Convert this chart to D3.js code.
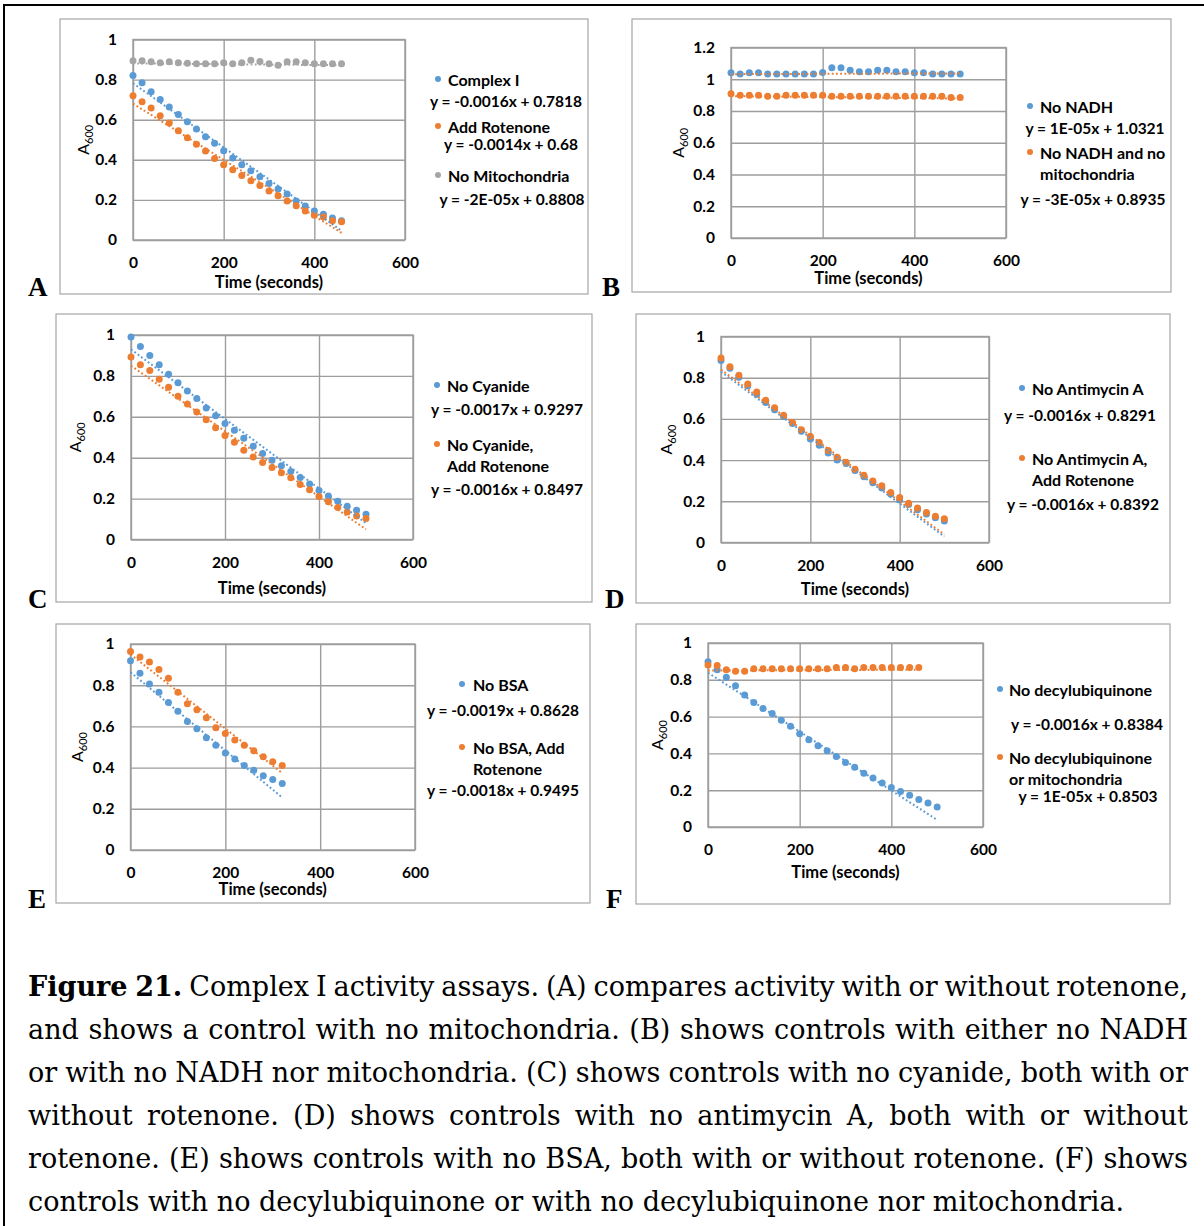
<!DOCTYPE html>
<html>
<head>
<meta charset="utf-8">
<script src="https://cdn.jsdelivr.net/npm/d3@7"></script>
<style>
  body { margin: 0; background: #fff; }
  svg text { font-family: Lato, "Open Sans", sans-serif; }
</style>
</head>
<body>
<svg id="fig" width="1204" height="1226"></svg>
<script>
// ---- values (A600 vs time, one reading every 20 s) ----
var time460 = [0,20,40,60,80,100,120,140,160,180,200,220,240,260,280,300,320,340,360,380,400,420,440,460];
var time500 = [0,20,40,60,80,100,120,140,160,180,200,220,240,260,280,300,320,340,360,380,400,420,440,460,480,500];
var time320 = [0,20,40,60,80,100,120,140,160,180,200,220,240,260,280,300,320];

// A
var complexI = [0.820,0.784,0.739,0.701,0.663,0.626,0.590,0.553,0.515,0.482,0.445,0.409,0.375,0.346,0.316,0.282,0.254,0.229,0.194,0.169,0.145,0.128,0.110,0.096];
var addRotenone = [0.719,0.689,0.658,0.620,0.583,0.545,0.510,0.477,0.444,0.407,0.375,0.350,0.322,0.296,0.272,0.244,0.221,0.194,0.171,0.145,0.123,0.115,0.096,0.091];
var noMitochondria = [0.894,0.894,0.889,0.884,0.889,0.884,0.882,0.879,0.879,0.879,0.884,0.879,0.884,0.897,0.890,0.879,0.872,0.889,0.889,0.884,0.879,0.879,0.879,0.879];
// B
var noNADH = [1.041,1.033,1.041,1.041,1.033,1.033,1.033,1.033,1.033,1.033,1.043,1.073,1.073,1.056,1.048,1.048,1.056,1.056,1.048,1.048,1.041,1.041,1.033,1.033,1.033,1.033];
var noNADHnoMito = [0.908,0.899,0.899,0.899,0.893,0.893,0.899,0.899,0.899,0.899,0.899,0.893,0.893,0.893,0.893,0.893,0.893,0.893,0.893,0.893,0.893,0.893,0.893,0.893,0.885,0.885];
// C
var noCyanide = [0.990,0.944,0.900,0.854,0.808,0.767,0.726,0.689,0.643,0.605,0.567,0.534,0.495,0.456,0.420,0.387,0.361,0.333,0.303,0.272,0.239,0.213,0.187,0.162,0.143,0.123];
var noCyanideRot = [0.893,0.854,0.826,0.784,0.744,0.700,0.662,0.623,0.585,0.546,0.508,0.475,0.436,0.403,0.377,0.352,0.326,0.302,0.269,0.243,0.210,0.184,0.157,0.134,0.115,0.103];
// D
var noAntimycin = [0.883,0.846,0.802,0.761,0.720,0.680,0.644,0.612,0.578,0.540,0.503,0.472,0.434,0.401,0.383,0.350,0.319,0.290,0.264,0.236,0.206,0.184,0.159,0.138,0.120,0.104];
var noAntimycinRot = [0.896,0.853,0.812,0.769,0.730,0.691,0.654,0.618,0.583,0.547,0.516,0.485,0.447,0.414,0.390,0.356,0.327,0.299,0.275,0.243,0.218,0.191,0.167,0.146,0.128,0.115];
// E
var noBSA = [0.919,0.858,0.806,0.766,0.716,0.673,0.624,0.589,0.545,0.508,0.471,0.442,0.410,0.387,0.360,0.342,0.323];
var noBSARot = [0.963,0.937,0.913,0.876,0.834,0.766,0.710,0.681,0.642,0.594,0.565,0.534,0.508,0.482,0.453,0.429,0.410];
// F
var noDecyl = [0.898,0.855,0.814,0.768,0.717,0.676,0.644,0.617,0.580,0.547,0.507,0.474,0.442,0.414,0.383,0.350,0.325,0.292,0.266,0.239,0.214,0.193,0.173,0.150,0.130,0.109];
var noDecylMito = [0.880,0.878,0.854,0.847,0.847,0.860,0.860,0.860,0.860,0.860,0.860,0.860,0.860,0.860,0.867,0.867,0.860,0.867,0.867,0.867,0.867,0.867,0.867,0.867];

// linear trendlines [slope, intercept], as printed on the charts
var trendA = [[-0.0016, 0.7818], [-0.0014, 0.68], [-2e-5, 0.8808]];
var trendB = [[1e-5, 1.0321], [-3e-5, 0.8935]];
var trendC = [[-0.0017, 0.9297], [-0.0016, 0.8497]];
var trendD = [[-0.0016, 0.8291], [-0.0016, 0.8392]];
var trendE = [[-0.0019, 0.8628], [-0.0018, 0.9495]];
var trendF = [[-0.0016, 0.8384], [1e-5, 0.8503]];

// legend names (one inner array per series, one string per line) and equation labels
var namesA = [["Complex I"], ["Add Rotenone"], ["No Mitochondria"]];
var eqA = ["y = -0.0016x + 0.7818", "y = -0.0014x + 0.68", "y = -2E-05x + 0.8808"];
var namesB = [["No NADH"], ["No NADH and no", "mitochondria"]];
var eqB = ["y = 1E-05x + 1.0321", "y = -3E-05x + 0.8935"];
var namesC = [["No Cyanide"], ["No Cyanide,", "Add Rotenone"]];
var eqC = ["y = -0.0017x + 0.9297", "y = -0.0016x + 0.8497"];
var namesD = [["No Antimycin A"], ["No Antimycin A,", "Add Rotenone"]];
var eqD = ["y = -0.0016x + 0.8291", "y = -0.0016x + 0.8392"];
var namesE = [["No BSA"], ["No BSA, Add", "Rotenone"]];
var eqE = ["y = -0.0019x + 0.8628", "y = -0.0018x + 0.9495"];
var namesF = [["No decylubiquinone"], ["No decylubiquinone", "or mitochondria"]];
var eqF = ["y = -0.0016x + 0.8384", "y = 1E-05x + 0.8503"];

// axis ticks
var xTicks = [0, 200, 400, 600];
var xLabels = ["0", "200", "400", "600"];
var yTicks1 = [0, 0.2, 0.4, 0.6, 0.8, 1];
var yLabels1 = ["0", "0.2", "0.4", "0.6", "0.8", "1"];
var yTicks12 = [0, 0.2, 0.4, 0.6, 0.8, 1, 1.2];
var yLabels12 = ["0", "0.2", "0.4", "0.6", "0.8", "1", "1.2"];

var captionLines = [
  "Complex I activity assays. (A) compares activity with or without rotenone,",
  "and shows a control with no mitochondria. (B) shows controls with either no NADH",
  "or with no NADH nor mitochondria. (C) shows controls with no cyanide, both with or",
  "without rotenone. (D) shows controls with no antimycin A, both with or without",
  "rotenone. (E) shows controls with no BSA, both with or without rotenone. (F) shows",
  "controls with no decylubiquinone or with no decylubiquinone nor mitochondria."
];

var blue = "#5b9bd5", orange = "#ed7d31", gray = "#a5a5a5";
var gridColor = "#9d9d9d";

// layout of the six panels
var panels = [
  { letter: "A", letterPos: [28, 296], box: [60, 19, 588, 294], plot: [133, 39.5, 405, 240],
    yMax: 1, yTicks: yTicks1, yLabels: yLabels1, yTitleX: 83, xTitleY: 282,
    series: [
      { t: time460, v: complexI, color: blue, trend: trendA[0], trendColor: blue },
      { t: time460, v: addRotenone, color: orange, trend: trendA[1], trendColor: orange },
      { t: time460, v: noMitochondria, color: gray, trend: trendA[2], trendColor: gray }
    ],
    names: namesA, eqs: eqA,
    legend: { markerX: 438, textX: 448, rows: [80, 127, 176], eqX: [506, 511, 512], eqY: [102, 145, 200] } },
  { letter: "B", letterPos: [602, 296], box: [632, 19, 1171, 292], plot: [731, 47.5, 1006, 238],
    yMax: 1.2, yTicks: yTicks12, yLabels: yLabels12, yTitleX: 678, xTitleY: 278,
    series: [
      { t: time500, v: noNADH, color: blue, trend: trendB[0], trendColor: orange },
      { t: time500, v: noNADHnoMito, color: orange, trend: trendB[1], trendColor: orange }
    ],
    names: namesB, eqs: eqB,
    legend: { markerX: 1030, textX: 1040, rows: [107, 153], eqX: [1095, 1093], eqY: [129, 200] } },
  { letter: "C", letterPos: [28, 608], box: [56, 314, 592, 602], plot: [131, 335, 413, 539.5],
    yMax: 1, yTicks: yTicks1, yLabels: yLabels1, yTitleX: 75, xTitleY: 588,
    series: [
      { t: time500, v: noCyanide, color: blue, trend: trendC[0], trendColor: blue },
      { t: time500, v: noCyanideRot, color: orange, trend: trendC[1], trendColor: orange }
    ],
    names: namesC, eqs: eqC,
    legend: { markerX: 437, textX: 447, rows: [386, 445], eqX: [507, 507], eqY: [410, 490] } },
  { letter: "D", letterPos: [605, 608], box: [636, 314, 1170, 603], plot: [721, 336.5, 989, 542.5],
    yMax: 1, yTicks: yTicks1, yLabels: yLabels1, yTitleX: 666, xTitleY: 589,
    series: [
      { t: time500, v: noAntimycin, color: blue, trend: trendD[0], trendColor: blue },
      { t: time500, v: noAntimycinRot, color: orange, trend: trendD[1], trendColor: orange }
    ],
    names: namesD, eqs: eqD,
    legend: { markerX: 1022, textX: 1032, rows: [389, 459], eqX: [1080, 1083], eqY: [416, 505] } },
  { letter: "E", letterPos: [28, 908], box: [56, 624, 590, 903], plot: [130.5, 644, 415, 850],
    yMax: 1, yTicks: yTicks1, yLabels: yLabels1, yTitleX: 77, xTitleY: 889,
    series: [
      { t: time320, v: noBSA, color: blue, trend: trendE[0], trendColor: blue },
      { t: time320, v: noBSARot, color: orange, trend: trendE[1], trendColor: orange }
    ],
    names: namesE, eqs: eqE,
    legend: { markerX: 462, textX: 473, rows: [685, 748], eqX: [503, 503], eqY: [711, 791] } },
  { letter: "F", letterPos: [606, 908], box: [636, 624, 1170, 904], plot: [708, 643, 983, 827],
    yMax: 1, yTicks: yTicks1, yLabels: yLabels1, yTitleX: 657, xTitleY: 872,
    series: [
      { t: time500, v: noDecyl, color: blue, trend: trendF[0], trendColor: blue },
      { t: time460, v: noDecylMito, color: orange, trend: trendF[1], trendColor: orange }
    ],
    names: namesF, eqs: eqF,
    legend: { markerX: 1000, textX: 1009, rows: [690, 758], eqX: [1087, 1088], eqY: [725, 797] } }
];

var svg = d3.select("#fig");

// black frame of the page (top and left edges only are visible)
svg.append("path")
  .attr("d", "M4,1226 V5 H1204")
  .attr("fill", "none")
  .attr("stroke", "#000")
  .attr("stroke-width", 2);

panels.forEach(function(p) {
  var g = svg.append("g");
  var w = p.plot[2] - p.plot[0], h = p.plot[3] - p.plot[1];

  // chart box
  g.append("rect")
    .attr("x", p.box[0]).attr("y", p.box[1])
    .attr("width", p.box[2] - p.box[0]).attr("height", p.box[3] - p.box[1])
    .attr("fill", "#fff")
    .attr("stroke", "#a6a6a6")
    .attr("stroke-width", 1.2);

  var x = d3.scaleLinear().domain([0, 600]).range([p.plot[0], p.plot[2]]);
  var y = d3.scaleLinear().domain([0, p.yMax]).range([p.plot[3], p.plot[1]]);

  // y axis: labels + horizontal gridlines
  var yAxis = g.append("g")
    .attr("transform", "translate(" + p.plot[0] + ",0)")
    .call(d3.axisLeft(y).tickValues(p.yTicks).tickSize(-w).tickPadding(16)
      .tickFormat(function(d, i) { return p.yLabels[i]; }));

  // x axis: labels + vertical gridlines
  var xAxis = g.append("g")
    .attr("transform", "translate(0," + p.plot[3] + ")")
    .call(d3.axisBottom(x).tickValues(xTicks).tickSize(-h).tickPadding(17)
      .tickFormat(function(d, i) { return xLabels[i]; }));

  [yAxis, xAxis].forEach(function(ax) {
    ax.select(".domain").remove();
    ax.selectAll(".tick line").attr("stroke", gridColor).attr("stroke-width", 1.4);
    ax.selectAll(".tick text")
      .attr("fill", "#000")
      .style("font-size", "15.5px")
      .style("font-weight", "bold");
  });

  // plot border
  g.append("rect")
    .attr("x", p.plot[0]).attr("y", p.plot[1])
    .attr("width", w).attr("height", h)
    .attr("fill", "none")
    .attr("stroke", gridColor)
    .attr("stroke-width", 1.4);

  // series markers, then dotted trendlines
  p.series.forEach(function(s) {
    g.append("g").selectAll("circle")
      .data(s.t.map(function(t, i) { return [t, s.v[i]]; }))
      .join("circle")
      .attr("cx", function(d) { return x(d[0]); })
      .attr("cy", function(d) { return y(d[1]); })
      .attr("r", 3.5)
      .attr("fill", s.color);
  });
  p.series.forEach(function(s) {
    var tEnd = s.t[s.t.length - 1];
    g.append("line")
      .attr("x1", x(0)).attr("y1", y(s.trend[1]))
      .attr("x2", x(tEnd)).attr("y2", y(s.trend[0] * tEnd + s.trend[1]))
      .attr("stroke", s.trendColor)
      .attr("stroke-width", 2)
      .attr("stroke-dasharray", "1.8 2.4");
  });

  // axis titles
  g.append("text")
    .attr("x", (p.plot[0] + p.plot[2]) / 2)
    .attr("y", p.xTitleY)
    .attr("dy", "0.35em")
    .attr("text-anchor", "middle")
    .style("font-size", "16.5px")
    .style("font-weight", "bold")
    .text("Time (seconds)");

  var yt = g.append("text")
    .attr("transform", "translate(" + p.yTitleX + "," + ((p.plot[1] + p.plot[3]) / 2) + ") rotate(-90)")
    .attr("dy", "0.35em")
    .attr("text-anchor", "middle")
    .style("font-size", "16px");
  yt.append("tspan").text("A");
  yt.append("tspan").attr("dy", "4").style("font-size", "11px").text("600");

  // legend with equations
  var L = p.legend;
  p.names.forEach(function(lines, i) {
    var s = p.series[i];
    g.append("circle")
      .attr("cx", L.markerX).attr("cy", L.rows[i] - 1)
      .attr("r", 3)
      .attr("fill", s.color);
    lines.forEach(function(line, j) {
      g.append("text")
        .attr("x", L.textX)
        .attr("y", L.rows[i] + j * 21.5)
        .attr("dy", "0.35em")
        .style("font-size", "16px")
        .style("font-weight", "bold")
        .text(line);
    });
    g.append("text")
      .attr("x", L.eqX[i])
      .attr("y", L.eqY[i])
      .attr("dy", "0.35em")
      .attr("text-anchor", "middle")
      .style("font-size", "15.5px")
      .style("font-weight", "bold")
      .text(p.eqs[i]);
  });

  // panel letter
  svg.append("text")
    .attr("x", p.letterPos[0])
    .attr("y", p.letterPos[1])
    .style("font-family", "'Liberation Serif', serif")
    .style("font-size", "27px")
    .style("font-weight", "bold")
    .text(p.letter);
});

// caption, justified line by line like the source document
var capLeft = 28, capWidth = 1160, capTop = 996, capStep = 43;
var capFont = "'DejaVu Serif', serif";

// size the font so the unjustified last line runs as far as in the figure
var probe = svg.append("text")
  .style("font-family", capFont).style("font-size", "28px")
  .text(captionLines[captionLines.length - 1]);
var capSize = 28 * 1097 / probe.node().getComputedTextLength();
probe.remove();

captionLines.forEach(function(line, i) {
  var t = svg.append("text")
    .attr("x", capLeft)
    .attr("y", capTop + i * capStep)
    .style("font-family", capFont)
    .style("font-size", capSize + "px");
  var full = line;
  if (i === 0) {
    t.append("tspan").style("font-weight", "bold").text("Figure 21.");
    t.append("tspan").text(" " + line);
    full = "Figure 21. " + line;
  } else {
    t.text(line);
  }
  if (i < captionLines.length - 1) {
    var natural = t.node().getComputedTextLength();
    var gaps = full.split(" ").length - 1;
    t.style("word-spacing", ((capWidth - natural) / gaps) + "px");
  }
});
</script>
</body>
</html>
